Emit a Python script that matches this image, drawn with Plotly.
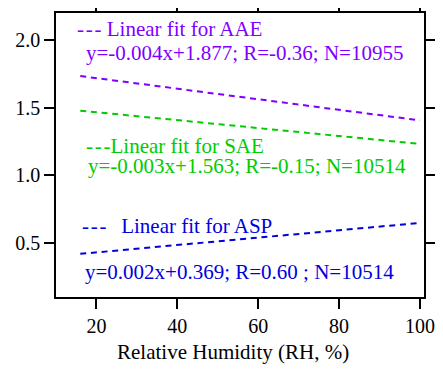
import plotly.graph_objects as go

# Fit line endpoints
rh = [16, 100]
aae_fit = [1.734, 1.406]
sae_fit = [1.478, 1.232]
asp_fit = [0.419, 0.648]

series_names = ["AAE", "SAE", "ASP"]
colors = ["#7f00ff", "#00cc00", "#0000dd"]
DASHES = "-\u200a-\u200a-"
labels = [DASHES + "\u00a0Linear fit for AAE",
          DASHES + "Linear fit for SAE",
          DASHES + "\u00a0\u00a0\u2009Linear fit for ASP"]
equations = [
    "y=-0.004x+1.877; R=-0.36; N=10955",
    "y=-0.003x+1.563; R=-0.15; N=10514",
    "y=0.002x+0.369; R=0.60 ; N=10514",
]
x_ticks = [20, 40, 60, 80, 100]
y_ticks = [0.5, 1.0, 1.5, 2.0]
x_title = "Relative Humidity (RH, %)"

# annotation anchor positions (data coords)
label_pos = [(14.8, 2.083), (16.9, 1.214), (15.9, 0.622)]
eq_pos = [(16.8, 1.906), (17.3, 1.066), (16.7, 0.287)]

FONT = "Liberation Serif"
fig = go.Figure()
for ys, c in zip([aae_fit, sae_fit, asp_fit], colors):
    fig.add_trace(go.Scatter(x=rh, y=ys, mode="lines",
                             line=dict(color=c, width=2, dash="6px,4.7px"),
                             showlegend=False))

for i, c in enumerate(colors):
    fig.add_annotation(x=label_pos[i][0], y=label_pos[i][1], text=labels[i],
                       xanchor="left", yanchor="middle", showarrow=False,
                       font=dict(family=FONT, size=21, color=c))
    fig.add_annotation(x=eq_pos[i][0], y=eq_pos[i][1], text=equations[i],
                       xanchor="left", yanchor="middle", showarrow=False,
                       font=dict(family=FONT, size=21, color=c))

# x-axis title as a paper annotation (slightly left of centre, as in the reference)
fig.add_annotation(x=0.48, y=-0.193, xref="paper", yref="paper", text=x_title,
                   xanchor="center", yanchor="middle", showarrow=False,
                   font=dict(family=FONT, size=21, color="black"))

axis_common = dict(showline=True, mirror="ticks", linecolor="black", linewidth=1.5,
                   ticks="outside", ticklen=10, tickwidth=1.5, tickcolor="black",
                   showgrid=False, zeroline=False, automargin=False,
                   tickfont=dict(family=FONT, size=20, color="black"))
fig.update_xaxes(range=[10, 101], tickvals=x_ticks, ticktext=[str(v) for v in x_ticks],
                 **axis_common)
fig.update_yaxes(range=[0.1, 2.2], tickvals=y_ticks, ticktext=[f"{v:.1f}" for v in y_ticks],
                 **axis_common)
# page body has an 8px default margin, so the figure is shrunk by 8px
fig.update_layout(width=435, height=361, margin=dict(l=48, r=19, t=5, b=72),
                  plot_bgcolor="white", paper_bgcolor="white")
fig.write_html("out.html")
